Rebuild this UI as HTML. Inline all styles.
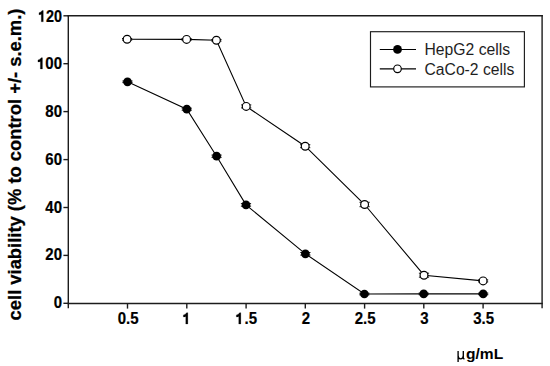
<!DOCTYPE html>
<html><head><meta charset="utf-8"><style>
html,body{margin:0;padding:0;background:#fff;}
svg{display:block;}
text{font-family:"Liberation Sans",sans-serif;fill:#000;}
.b{font-weight:bold;font-size:16.2px;}
.t{stroke:#000;stroke-width:0.2px;}
.t1{stroke:#000;stroke-width:13;}
.l{font-size:16px;fill:#1e1e1e;}
</style></head><body>
<svg width="550" height="366" viewBox="0 0 550 366">
<defs><path id="one" d="M315 0L175 0L175 -470Q110 -440 15 -430L15 -560Q170 -600 230 -700L315 -700Z"/></defs>
<rect width="550" height="366" fill="#fff"/>
<g stroke="#1c1c1c" stroke-width="1.4" fill="none">
<line x1="68.3" y1="15.1" x2="68.3" y2="308.2"/>
<line x1="67.6" y1="303.5" x2="542.8" y2="303.5"/>
<line x1="67.6" y1="15.8" x2="542.8" y2="15.8"/>
<line x1="542.1" y1="15.1" x2="542.1" y2="308.2"/>
<line x1="63.4" y1="303.3" x2="68.3" y2="303.3"/>
<line x1="63.4" y1="255.4" x2="68.3" y2="255.4"/>
<line x1="63.4" y1="207.5" x2="68.3" y2="207.5"/>
<line x1="63.4" y1="159.6" x2="68.3" y2="159.6"/>
<line x1="63.4" y1="111.6" x2="68.3" y2="111.6"/>
<line x1="63.4" y1="63.7" x2="68.3" y2="63.7"/>
<line x1="63.4" y1="15.8" x2="68.3" y2="15.8"/>
<line x1="127.5" y1="303.3" x2="127.5" y2="308.6"/>
<line x1="186.8" y1="303.3" x2="186.8" y2="308.6"/>
<line x1="246.1" y1="303.3" x2="246.1" y2="308.6"/>
<line x1="305.3" y1="303.3" x2="305.3" y2="308.6"/>
<line x1="364.6" y1="303.3" x2="364.6" y2="308.6"/>
<line x1="423.8" y1="303.3" x2="423.8" y2="308.6"/>
<line x1="483.1" y1="303.3" x2="483.1" y2="308.6"/>

</g>
<text x="62.0" y="307.6" text-anchor="end" class="b t" textLength="8.34" lengthAdjust="spacingAndGlyphs">0</text>
<text x="62.0" y="259.7" text-anchor="end" class="b t" textLength="16.69" lengthAdjust="spacingAndGlyphs">20</text>
<text x="62.0" y="212.8" text-anchor="end" class="b t" textLength="16.69" lengthAdjust="spacingAndGlyphs">40</text>
<text x="62.0" y="164.9" text-anchor="end" class="b t" textLength="16.69" lengthAdjust="spacingAndGlyphs">60</text>
<text x="62.0" y="116.9" text-anchor="end" class="b t" textLength="16.69" lengthAdjust="spacingAndGlyphs">80</text>
<text x="62.0" y="69.0" text-anchor="end" class="b t" textLength="25.03" lengthAdjust="spacingAndGlyphs">&#8199;00</text>
<text x="62.0" y="21.8" text-anchor="end" class="b t" textLength="24.0" lengthAdjust="spacingAndGlyphs">&#8199;20</text>
<text x="128.1" y="324.0" text-anchor="middle" class="b t" textLength="20.86" lengthAdjust="spacingAndGlyphs">0.5</text>
<text x="187.3" y="324.0" text-anchor="middle" class="b t" textLength="8.34" lengthAdjust="spacingAndGlyphs">&#8199;</text>
<text x="246.6" y="324.0" text-anchor="middle" class="b t" textLength="20.86" lengthAdjust="spacingAndGlyphs">&#8199;.5</text>
<text x="305.8" y="324.0" text-anchor="middle" class="b t" textLength="8.34" lengthAdjust="spacingAndGlyphs">2</text>
<text x="365.1" y="324.0" text-anchor="middle" class="b t" textLength="20.86" lengthAdjust="spacingAndGlyphs">2.5</text>
<text x="424.3" y="324.0" text-anchor="middle" class="b t" textLength="8.34" lengthAdjust="spacingAndGlyphs">3</text>
<text x="483.6" y="324.0" text-anchor="middle" class="b t" textLength="20.86" lengthAdjust="spacingAndGlyphs">3.5</text>
<use href="#one" class="t1" transform="translate(37.72,69.02) scale(0.01501,0.0162)"/><use href="#one" class="t1" transform="translate(38.75,21.80) scale(0.01439,0.0162)"/><use href="#one" class="t1" transform="translate(183.13,324.0) scale(0.01500,0.0162)"/><use href="#one" class="t1" transform="translate(236.12,324.0) scale(0.01500,0.0162)"/>
<g stroke="#000" stroke-width="1.1" fill="none">
<polyline points="127.5,81.8 186.8,109.2 216.6,156.2 246.0,204.9 305.4,253.8 364.4,294.0 423.7,293.9 483.2,293.9"/>
<polyline points="127.1,39.3 186.6,39.4 216.4,40.3 246.2,106.4 305.2,146.2 364.6,204.5 424.0,275.2 483.1,280.9"/>
</g>
<g stroke="#000" stroke-width="0.9" fill="none"><path d="M122.4 81.0H132.6M122.4 82.6H132.6"/><path d="M181.7 108.2H191.9M181.7 110.2H191.9"/><path d="M211.5 155.1H221.7M211.5 157.3H221.7"/><path d="M240.9 203.6H251.1M240.9 206.2H251.1"/><path d="M300.3 252.5H310.5M300.3 255.1H310.5"/><path d="M359.3 293.2H369.5M359.3 294.8H369.5"/><path d="M418.6 293.1H428.8M418.6 294.7H428.8"/><path d="M478.1 293.1H488.3M478.1 294.7H488.3"/><path d="M122.0 38.5H132.2M122.0 40.1H132.2"/><path d="M181.5 38.6H191.7M181.5 40.2H191.7"/><path d="M211.3 39.5H221.5M211.3 41.1H221.5"/><path d="M241.1 104.9H251.3M241.1 107.9H251.3"/><path d="M300.1 144.7H310.3M300.1 147.7H310.3"/><path d="M359.5 202.3H369.7M359.5 206.7H369.7"/><path d="M418.9 273.2H429.1M418.9 277.2H429.1"/><path d="M478.0 279.9H488.2M478.0 281.9H488.2"/></g>
<circle cx="127.5" cy="81.8" r="4.35" fill="#000"/>
<circle cx="186.8" cy="109.2" r="4.35" fill="#000"/>
<circle cx="216.6" cy="156.2" r="4.35" fill="#000"/>
<circle cx="246.0" cy="204.9" r="4.35" fill="#000"/>
<circle cx="305.4" cy="253.8" r="4.35" fill="#000"/>
<circle cx="364.4" cy="294.0" r="4.35" fill="#000"/>
<circle cx="423.7" cy="293.9" r="4.35" fill="#000"/>
<circle cx="483.2" cy="293.9" r="4.35" fill="#000"/>
<circle cx="127.1" cy="39.3" r="3.9" fill="#fff" stroke="#000" stroke-width="1.2"/>
<circle cx="186.6" cy="39.4" r="3.9" fill="#fff" stroke="#000" stroke-width="1.2"/>
<circle cx="216.4" cy="40.3" r="3.9" fill="#fff" stroke="#000" stroke-width="1.2"/>
<circle cx="246.2" cy="106.4" r="3.9" fill="#fff" stroke="#000" stroke-width="1.2"/>
<circle cx="305.2" cy="146.2" r="3.9" fill="#fff" stroke="#000" stroke-width="1.2"/>
<circle cx="364.6" cy="204.5" r="3.9" fill="#fff" stroke="#000" stroke-width="1.2"/>
<circle cx="424.0" cy="275.2" r="3.9" fill="#fff" stroke="#000" stroke-width="1.2"/>
<circle cx="483.1" cy="280.9" r="3.9" fill="#fff" stroke="#000" stroke-width="1.2"/>

<rect x="370.5" y="31.7" width="153.9" height="55.2" fill="none" stroke="#1c1c1c" stroke-width="1.15"/>
<g stroke="#000" stroke-width="1.2">
<line x1="379.8" y1="49.5" x2="416" y2="49.5"/>
<line x1="379.8" y1="68.9" x2="416" y2="68.9"/>
</g>
<circle cx="397.5" cy="49.4" r="4.4" fill="#000"/>
<circle cx="397.5" cy="68.8" r="3.8" fill="#fff" stroke="#000" stroke-width="1.2"/>
<text x="424.5" y="54.6" class="l" textLength="85.6" lengthAdjust="spacingAndGlyphs">HepG2 cells</text>
<text x="424.5" y="74.6" class="l" textLength="89.8" lengthAdjust="spacingAndGlyphs">CaCo-2 cells</text>
<text transform="translate(20.8,320.4) rotate(-90)" class="b" style="font-size:18px;stroke:#000;stroke-width:0.25px" textLength="311.8" lengthAdjust="spacingAndGlyphs">cell viability (% to control +/- s.e.m.)</text>
<path d="M458.1 350.9V361.9M458.1 355.6Q458.1 358.9 460.6 358.9Q463.3 358.9 463.3 355.6M463.3 350.9V357.9Q463.4 358.9 464.5 358.7" fill="none" stroke="#000" stroke-width="1.35"/>
<text x="466" y="358.7" class="b" style="font-size:15px" textLength="37.2" lengthAdjust="spacingAndGlyphs">g/mL</text>
</svg>
</body></html>
